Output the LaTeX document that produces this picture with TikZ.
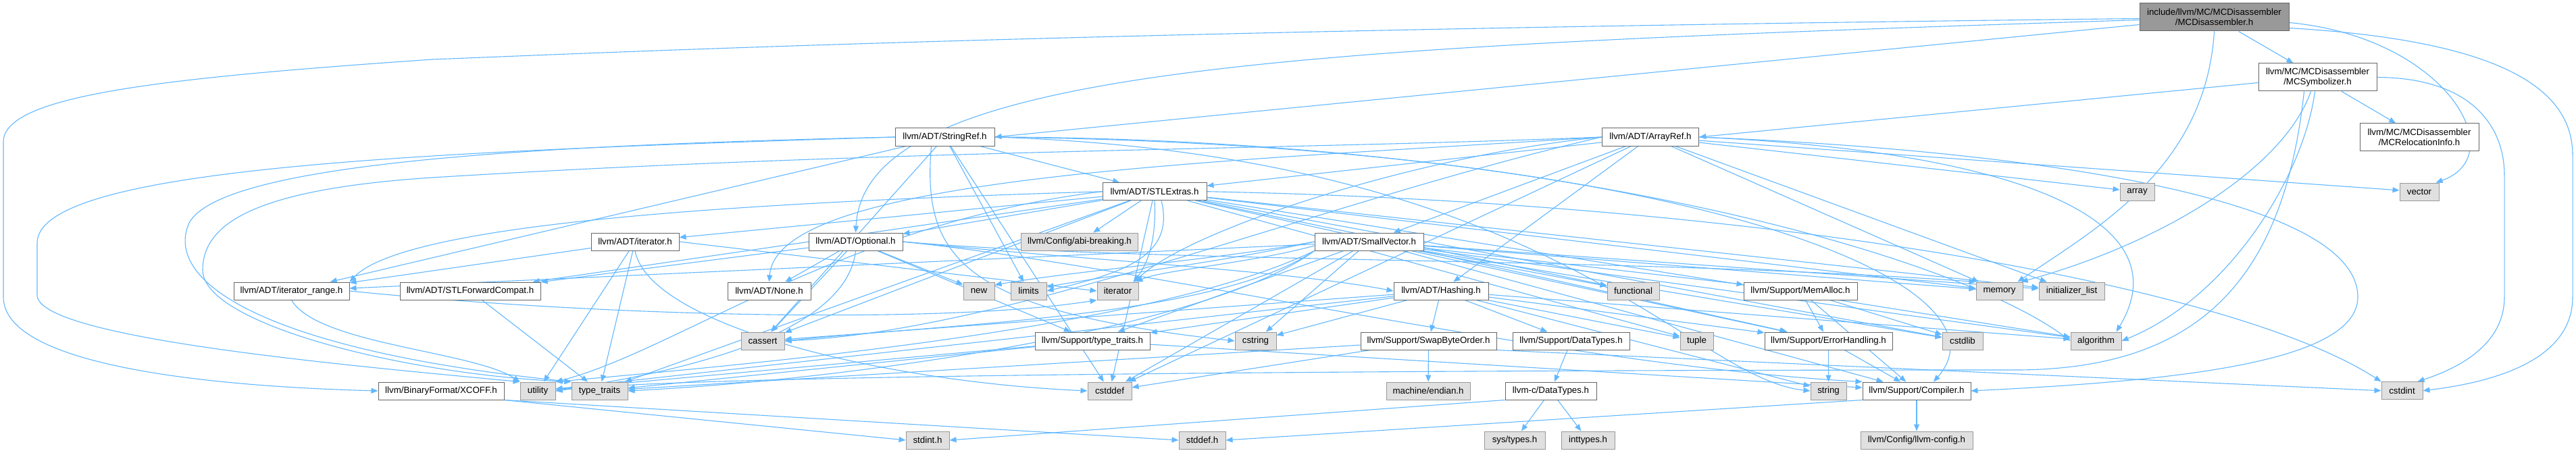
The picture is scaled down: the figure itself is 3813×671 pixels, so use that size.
\documentclass[tikz,border=0pt]{standalone}
\usepackage{fontspec}
\setmainfont{Liberation Sans}
\usetikzlibrary{arrows.meta}
\definecolor{edgec}{HTML}{63B8FF}
\definecolor{bordc}{HTML}{666666}
\definecolor{grayb}{HTML}{999999}
\definecolor{grayf}{HTML}{E0E0E0}
\pgfdeclarelayer{bg}
\pgfsetlayers{bg,main}
\tikzset{
  nbase/.style={rectangle, line width=1pt, inner xsep=2pt, inner ysep=0pt, minimum height=26pt, font=\fontsize{13.3}{15}\selectfont, text=black, align=center},
  wn/.style={nbase, draw=bordc, fill=white},
  gn/.style={nbase, draw=grayb, fill=grayf},
  mn/.style={nbase, draw=bordc, fill=grayb},
  ed/.style={draw=edgec, line width=1.1pt, -{Triangle[length=10pt,width=8pt]}},
}
\begin{document}
\begin{tikzpicture}[x=1pt,y=-1pt]
\begin{pgfonlayer}{bg}
\fill[white] (0,0) rectangle (3813,671);
\end{pgfonlayer}
\useasboundingbox (0,0) rectangle (3813,671);

% rows 1-3
\node[mn, minimum width=221pt, minimum height=41pt] (M) at (3277.5,25.5) {include/llvm/MC/MCDisassembler\\/MCDisassembler.h};
\node[wn, minimum width=175pt, minimum height=41pt] (Sym) at (3430.5,114.5) {llvm/MC/MCDisassembler\\/MCSymbolizer.h};
\node[wn, minimum width=176pt, minimum height=40pt] (Rel) at (3581,203) {llvm/MC/MCDisassembler\\/MCRelocationInfo.h};
\node[wn, minimum width=143.5pt] (AR) at (2443,203) {llvm/ADT/ArrayRef.h};
\node[wn, minimum width=147pt] (SR) at (1398.5,203) {llvm/ADT/StringRef.h};
% row 4
\node[wn, minimum width=154pt] (STL) at (1709,283.7) {llvm/ADT/STLExtras.h};
\node[gn, minimum width=51pt] (arr) at (3163.5,284) {array};
\node[gn, minimum width=58pt] (vec) at (3581,284) {vector};
% row 5
\node[wn, minimum width=130pt] (It) at (940,358) {llvm/ADT/iterator.h};
\node[wn, minimum width=139pt] (Opt) at (1266.5,358) {llvm/ADT/Optional.h};
\node[gn, minimum width=172.5pt] (abi) at (1598,358) {llvm/Config/abi-breaking.h};
\node[wn, minimum width=161pt] (SV) at (2026.5,358) {llvm/ADT/SmallVector.h};
% row 6
\node[wn, minimum width=171pt] (IR) at (431.5,431) {llvm/ADT/iterator\_range.h};
\node[wn, minimum width=208pt] (FC) at (696,431) {llvm/ADT/STLForwardCompat.h};
\node[wn, minimum width=123pt] (None) at (1138.5,431) {llvm/ADT/None.h};
\node[gn, minimum width=46pt] (nw) at (1449,431) {new};
\node[gn, minimum width=53pt] (lim) at (1522.5,431) {limits};
\node[gn, minimum width=61pt] (iter) at (1654.5,431) {iterator};
\node[wn, minimum width=140pt] (H) at (2133,431) {llvm/ADT/Hashing.h};
\node[gn, minimum width=77pt] (func) at (2417.5,431) {functional};
\node[wn, minimum width=168pt] (MA) at (2665,431) {llvm/Support/MemAlloc.h};
\node[gn, minimum width=69pt] (mem) at (2959.5,431) {memory};
\node[gn, minimum width=97pt] (initl) at (3066.5,431) {initializer\_list};
% row 7
\node[gn, minimum width=64pt] (cas) at (1129,505) {cassert};
\node[wn, minimum width=170pt] (TT) at (1617,505) {llvm/Support/type\_traits.h};
\node[gn, minimum width=61pt] (cstr) at (1858.5,505) {cstring};
\node[wn, minimum width=201pt] (SBO) at (2114.5,505) {llvm/Support/SwapByteOrder.h};
\node[wn, minimum width=173pt] (DT) at (2325.5,505) {llvm/Support/DataTypes.h};
\node[gn, minimum width=49pt] (tup) at (2511.5,505) {tuple};
\node[wn, minimum width=189pt] (EH) at (2706.5,505) {llvm/Support/ErrorHandling.h};
\node[gn, minimum width=60pt] (cl) at (2905,505) {cstdlib};
\node[gn, minimum width=75pt] (alg) at (3102.5,505) {algorithm};
% row 8
\node[wn, minimum width=186pt] (XC) at (653,579) {llvm/BinaryFormat/XCOFF.h};
\node[gn, minimum width=52pt] (util) at (796,579) {utility};
\node[gn, minimum width=83pt] (tt) at (887.5,579) {type\_traits};
\node[gn, minimum width=65pt] (cdef) at (1642.5,579) {cstddef};
\node[gn, minimum width=124pt] (endian) at (2114,579) {machine/endian.h};
\node[wn, minimum width=135pt] (CDT) at (2295.5,579) {llvm-c/DataTypes.h};
\node[gn, minimum width=53pt] (str) at (2706.5,579) {string};
\node[wn, minimum width=160pt] (Comp) at (2837,579) {llvm/Support/Compiler.h};
\node[gn, minimum width=61pt] (cint) at (3555.5,578.7) {cstdint};
% row 9
\node[gn, minimum width=64pt] (sint) at (1373,652) {stdint.h};
\node[gn, minimum width=69pt] (sdef) at (1779.5,652) {stddef.h};
\node[gn, minimum width=90pt] (systy) at (2242,652) {sys/types.h};
\node[gn, minimum width=79pt] (intty) at (2350.5,652) {inttypes.h};
\node[gn, minimum width=166pt] (lcfg) at (2837,652) {llvm/Config/llvm-config.h};

\begin{pgfonlayer}{bg}
% main header
\draw[ed] ([yshift=-2pt]M.west) .. controls (1600,45) and (900,78) .. (640,88) .. controls (250,115) and (5,140) .. (5,210) -- (5,440) .. controls (5,540) and (300,572) .. (XC.west);
\draw[ed] ([yshift=-4pt]M.west) .. controls (1900,70) and (1280,100) .. (Opt.north);
\draw[ed] ([yshift=-11pt]M.west) -- (SR.east);
\draw[ed] (M) -- (Sym);
\draw[ed] (M.south) .. controls (3265,250) and (3100,340) .. ([xshift=-8pt]mem.north east);
\draw[ed] ([yshift=-8pt]M.east) .. controls (3620,55) and (3720,230) .. ([xshift=-5pt]vec.north east);
\draw[ed] ([yshift=-16pt]M.east) .. controls (3700,60) and (3808,130) .. (3808,230) -- (3808,440) .. controls (3808,530) and (3700,565) .. (cint.east);
% MCSymbolizer
\draw[ed] (Sym) -- (Rel);
\draw[ed] (Sym.east) .. controls (3650,115) and (3707,180) .. (3707,260) -- (3707,440) .. controls (3707,510) and (3640,545) .. ([xshift=-8pt]cint.north east);
\draw[ed] ([yshift=-8pt]Sym.west) -- (AR.east);
\draw[ed] ([xshift=-4pt]Sym.south) .. controls (3410,260) and (3300,440) .. (alg.east);
\draw[ed] ([xshift=-10pt]Sym.south) .. controls (3380,250) and (3200,360) .. ([xshift=-3pt]mem.north east);
\draw[ed] ([xshift=-20pt]Sym.south) .. controls (3380,420) and (3250,545) .. (2990,548) .. controls (2000,548) and (1000,556) .. (util.east);
% ArrayRef
\draw[ed] (AR) -- (H);
\draw[ed] (AR.west) .. controls (1800,240) and (1150,260) .. (None.north);
\draw[ed] (AR) -- (SV);
\draw[ed] (AR) -- (STL);
\draw[ed] (AR.east) .. controls (3050,225) and (3490,300) .. (3490,440) .. controls (3490,540) and (3200,565) .. (Comp.east);
\draw[ed] (AR.east) .. controls (3000,225) and (3230,330) .. ([xshift=-8pt]alg.north east);
\draw[ed] (AR) -- (arr);
\draw[ed] (AR.west) .. controls (1950,300) and (1500,490) .. (cas.east);
\draw[ed] (AR) -- (cdef);
\draw[ed] (AR) -- (initl);
\draw[ed] (AR.west) .. controls (2100,230) and (1760,340) .. ([xshift=-6pt]iter.north east);
\draw[ed] (AR) -- (mem);
\draw[ed] (AR.west) .. controls (1900,222) and (1300,222) .. (640,263) .. controls (380,280) and (300,330) .. (300,400) .. controls (300,480) and (600,555) .. (tt.north west);
\draw[ed] (AR) -- (vec);
% StringRef
\draw[ed] (SR) -- (STL);
\draw[ed] (SR) -- (IR);
\draw[ed] (SR.east) .. controls (2500,215) and (2990,420) .. ([xshift=25pt]Comp.north);
\draw[ed] (SR.east) .. controls (2300,205) and (2900,380) .. (alg.west);
\draw[ed] (SR) -- (cas);
\draw[ed] (SR) -- (cdef);
\draw[ed] ([xshift=-20pt]SR.south) .. controls (1365,380) and (1420,460) .. (cstr.west);
\draw[ed] (SR) -- (lim);
\draw[ed] (SR.east) .. controls (2300,230) and (2500,560) .. (str.west);
\draw[ed] (SR.west) .. controls (800,215) and (330,240) .. (280,330) .. controls (240,420) and (400,520) .. (tt.north west);
\draw[ed] (SR.west) .. controls (600,225) and (55,250) .. (55,360) -- (55,437) .. controls (55,500) and (500,540) .. (util.north west);
% STLExtras
\draw[ed] (STL) -- (Opt);
\draw[ed] (STL) -- (FC);
\draw[ed] (STL) -- (It);
\draw[ed] (STL.west) .. controls (1100,300) and (600,330) .. (IR.north east);
\draw[ed] (STL) -- (abi);
\draw[ed] (STL) -- (EH);
\draw[ed] (STL) -- (alg);
\draw[ed] (STL) -- (cas);
\draw[ed] (STL) -- (cdef);
\draw[ed] (STL.east) .. controls (2600,300) and (3300,420) .. (cint.north west);
\draw[ed] (STL) -- (cl);
\draw[ed] (STL) -- (func);
\draw[ed] (STL) -- (initl);
\draw[ed] (STL.south) .. controls (1712,350) and (1700,390) .. ([xshift=-8pt]iter.north east);
\draw[ed] ([xshift=10pt]STL.south) .. controls (1740,380) and (1660,405) .. (lim.east);
\draw[ed] (STL) -- (mem);
\draw[ed] (STL) -- (tup);
\draw[ed] (STL) -- (tt);
\draw[ed] (STL.west) .. controls (1250,330) and (1000,520) .. (util.north east);
% Optional
\draw[ed] (Opt.east) .. controls (1600,385) and (1900,400) .. (H.west);
\draw[ed] (Opt) -- (None);
\draw[ed] (Opt) -- (FC);
\draw[ed] (Opt.east) .. controls (1700,395) and (2300,540) .. (Comp.north west);
\draw[ed] (Opt) -- (TT);
\draw[ed] (Opt) -- (cas);
\draw[ed] (Opt.east) .. controls (1700,390) and (2400,380) .. (mem.north west);
\draw[ed] (Opt) -- (nw);
\draw[ed] (Opt.south) .. controls (1250,520) and (900,565) .. (util.east);
% iterator.h
\draw[ed] (It) -- (IR);
\draw[ed] (It.south) .. controls (960,480) and (1300,565) .. (cdef.west);
\draw[ed] (It.east) -- (iter.west);
\draw[ed] (It) -- (tt);
\draw[ed] (It) -- (util);
% iterator_range.h
\draw[ed] (IR.south) .. controls (470,510) and (700,520) .. (util.north west);
\draw[ed] (IR.east) .. controls (900,470) and (1400,480) .. (iter.south west);
% STLForwardCompat
\draw[ed] (FC) -- (tt);
% SmallVector
\draw[ed] (SV) -- (IR);
\draw[ed] (SV) -- (Comp);
\draw[ed] (SV) -- (EH);
\draw[ed] (SV) -- (MA);
\draw[ed] (SV) -- (TT);
\draw[ed] (SV) -- (alg);
\draw[ed] (SV.south west) .. controls (1800,470) and (1400,480) .. (cas.east);
\draw[ed] (SV) -- (cdef);
\draw[ed] (SV) -- (cl);
\draw[ed] (SV) -- (cstr);
\draw[ed] (SV) -- (func);
\draw[ed] (SV) -- (initl);
\draw[ed] ([yshift=-6pt]SV.west) .. controls (1850,390) and (1720,400) .. ([xshift=-4pt]iter.north east);
\draw[ed] (SV.west) .. controls (1800,390) and (1660,405) .. ([yshift=6pt]lim.east);
\draw[ed] (SV) -- (mem);
\draw[ed] (SV.west) .. controls (1800,385) and (1600,400) .. ([yshift=9pt]nw.east);
\draw[ed] (SV.south west) .. controls (1800,480) and (1300,560) .. (tt.east);
\draw[ed] (SV.south west) .. controls (1700,490) and (1100,540) .. (util.north east);
% Hashing
\draw[ed] (H) -- (DT);
\draw[ed] (H) -- (EH);
\draw[ed] (H) -- (SBO);
\draw[ed] (H) -- (TT);
\draw[ed] (H) -- (alg);
\draw[ed] (H) -- (cas);
\draw[ed] (H) -- (cstr);
\draw[ed] (H) -- (str);
\draw[ed] (H) -- (tup);
\draw[ed] (H) -- (util);
% Support/type_traits.h
\draw[ed] (TT) -- (Comp);
\draw[ed] (TT) -- (tt);
\draw[ed] (TT) -- (util);
% SwapByteOrder
\draw[ed] (SBO) -- (cdef);
\draw[ed] (SBO.south east) -- (cint.west);
\draw[ed] (SBO) -- (tt);
\draw[ed] (SBO) -- (endian);
% DataTypes
\draw[ed] (DT) -- (CDT);
\draw[ed] (CDT) -- (intty);
\draw[ed] (CDT.south west) -- (sint.east);
\draw[ed] (CDT) -- (systy);
% MemAlloc, ErrorHandling, Compiler
\draw[ed] (MA) -- (Comp);
\draw[ed] (MA) -- (EH);
\draw[ed] (MA) -- (cl);
\draw[ed] (EH) -- (Comp);
\draw[ed] (EH) -- (str);
\draw[ed] (Comp) -- (lcfg);
\draw[ed] (Comp.south west) -- (sdef.east);
% XCOFF
\draw[ed] (XC.south east) -- (sdef.west);
\draw[ed] (XC.south east) -- (sint.west);
\end{pgfonlayer}
\end{tikzpicture}
\end{document}
